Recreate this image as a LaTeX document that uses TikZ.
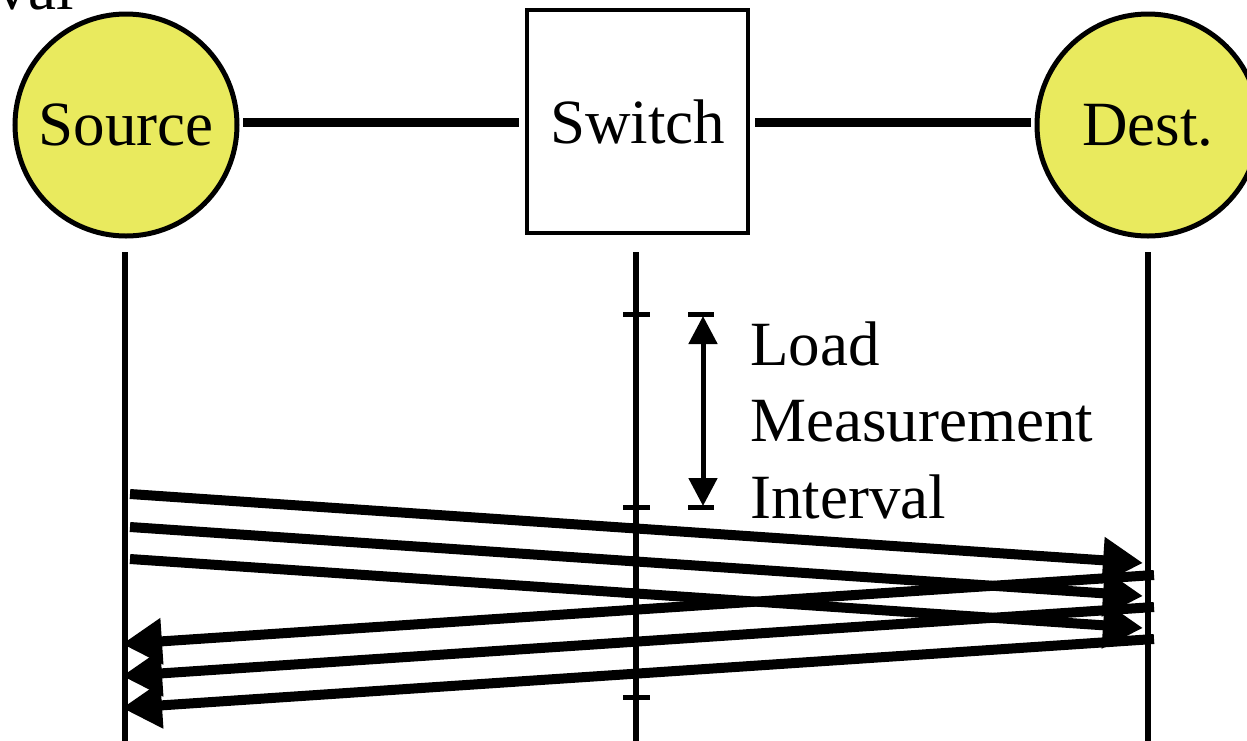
\documentclass[tikz,border=0pt]{standalone}
\usepackage{fontspec}
\setmainfont{Liberation Serif}
\usetikzlibrary{arrows.meta}
\definecolor{hostfill}{RGB}{233,234,94}
\tikzset{
  host/.style={circle, draw=black, line width=5pt, fill=hostfill, minimum size=222pt, inner sep=0pt},
  switchbox/.style={rectangle, draw=black, line width=4pt, fill=white, minimum width=221pt, minimum height=223pt, inner sep=0pt},
  link/.style={line width=9pt},
  lifeline/.style={line width=5.5pt},
  tick/.style={line width=5pt},
  msg/.style={line width=10pt, -{Triangle[length=40pt,width=44pt]}},
  span/.style={line width=5pt, {Triangle[length=28pt,width=28pt]}-{Triangle[length=28pt,width=28pt]}},
  lbl/.style={inner sep=0pt, font=\fontsize{63}{76}\selectfont}
}
\begin{document}
\begin{tikzpicture}[x=1pt, y=-1pt]
\useasboundingbox (0,0) rectangle (1247,740);

% hosts and switch
\node[host] (src) at (126,125) {};
\node[lbl] at (src.center) {Source};
\node[switchbox] (sw) at (637.5,121.5) {};
\node[lbl] at (sw.center) {Switch};
\node[host] (dst) at (1148,125) {};
\node[lbl] at (dst.center) {Dest.};

% physical links
\coordinate (l1a) at (243,122);
\coordinate (l1b) at (519,122);
\coordinate (l2a) at (755,122);
\coordinate (l2b) at (1031,122);
\draw[link] (l1a) -- (l1b);
\draw[link] (l2a) -- (l2b);

% lifelines
\coordinate (srcTop) at (125,252);
\coordinate (srcBot) at (125,741);
\coordinate (swTop) at (636,252);
\coordinate (swBot) at (636,741);
\coordinate (dstTop) at (1148,252);
\coordinate (dstBot) at (1148,741);
\draw[lifeline] (srcTop) -- (srcBot);
\draw[lifeline] (swTop) -- (swBot);
\draw[lifeline] (dstTop) -- (dstBot);

% interval ticks on the switch lifeline
\foreach \y/\n in {314/ta,507/tb,697/tc}{
  \coordinate (\n L) at (623,\y);
  \coordinate (\n R) at (650,\y);
  \draw[tick] (\n L) -- (\n R);
}

% measurement interval marker
\coordinate (spanTop) at (703,316);
\coordinate (spanBot) at (703,506);
\coordinate (barTL) at (688,314);
\coordinate (barTR) at (714,314);
\coordinate (barBL) at (688,507);
\coordinate (barBR) at (714,507);
\draw[tick] (barTL) -- (barTR);
\draw[tick] (barBL) -- (barBR);
\draw[span] (spanTop) -- (spanBot);
\node[lbl, anchor=base west] (t1) at (750,365) {Load};
\node[lbl, anchor=base west] (t2) at (750,441) {Measurement};
\node[lbl, anchor=base west] (t3) at (750,518) {Interval};
\node[lbl, anchor=base east] (tv) at (74,9) {val};

% data packets towards the destination
\coordinate (f1a) at (130,494);  \coordinate (f1b) at (1143,563);
\coordinate (f2a) at (130,527);  \coordinate (f2b) at (1143,596);
\coordinate (f3a) at (130,559);  \coordinate (f3b) at (1143,628);
\draw[msg] (f1a) -- (f1b);
\draw[msg] (f2a) -- (f2b);
\draw[msg] (f3a) -- (f3b);

% acknowledgements back to the source
\coordinate (b1a) at (1154,575);  \coordinate (b1b) at (122,644);
\coordinate (b2a) at (1154,607);  \coordinate (b2b) at (122,676);
\coordinate (b3a) at (1154,639);  \coordinate (b3b) at (122,708);
\draw[msg] (b1a) -- (b1b);
\draw[msg] (b2a) -- (b2b);
\draw[msg] (b3a) -- (b3b);
\end{tikzpicture}
\end{document}
